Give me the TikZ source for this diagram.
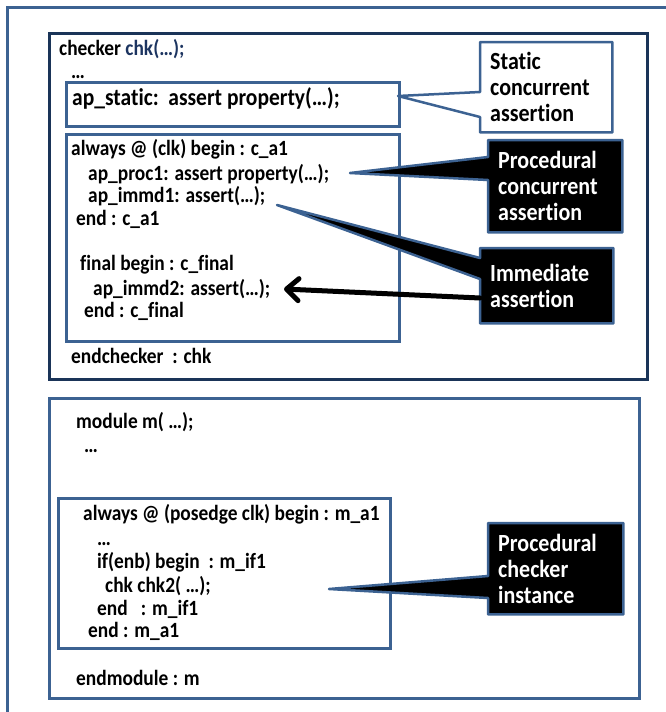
\documentclass[tikz,border=0pt]{standalone}
\usepackage{fontspec}
\setmainfont{Carlito}[Ligatures=NoCommon]
\usetikzlibrary{arrows.meta}

\definecolor{frameblue}{RGB}{60,98,146}
\definecolor{navyframe}{RGB}{26,52,88}
\definecolor{chkblue}{RGB}{28,52,96}

\pgfdeclarelayer{frames}
\pgfdeclarelayer{callouts}
\pgfsetlayers{frames,callouts,main}

% slightly tall lettering
\newcommand\tallbox[1]{\scalebox{1}[1.12]{#1}}

\tikzset{
  code/.style={anchor=base west, inner sep=0pt, font=\bfseries\fontsize{19.4}{20}\selectfont},
  bigcode/.style={code, font=\bfseries\fontsize{21.5}{22}\selectfont},
  codebox/.style={draw=frameblue, line width=2.5pt, anchor=north west, inner sep=0pt},
  calltext/.style={anchor=north west, inner xsep=10pt, inner ysep=0pt, align=left,
    font=\bfseries\fontsize{22}{26}\selectfont},
  darkcallout/.style={fill=black, draw=frameblue, line width=2.5pt, line join=round},
  lightcallout/.style={fill=white, draw=frameblue, line width=2.5pt, line join=round},
}

\begin{document}
\begin{tikzpicture}[x=1pt, y=-1pt]
\useasboundingbox (0,0) rectangle (665,712);

% frames
\begin{pgfonlayer}{frames}
  \draw[frameblue, line width=3pt] (7,730) -- (7,7) -- (680,7);
  \node[codebox, draw=navyframe, line width=3pt, minimum width=598pt, minimum height=346pt] (chkbox) at (48,32) {};
  \node[codebox, minimum width=333pt, minimum height=44pt] (stbox) at (65,81) {};
  \node[codebox, minimum width=333pt, minimum height=207pt] (alwbox) at (65,133) {};
  \node[codebox, minimum width=590pt, minimum height=300pt] (modbox) at (48,397) {};
  \node[codebox, minimum width=332pt, minimum height=150pt] (malwbox) at (57,497) {};
\end{pgfonlayer}

% checker code
\node[code] (l1) at (59,55) {\tallbox{checker \textcolor{chkblue}{chk(…);}}};
\node[code] (l2) at (71,78) {\tallbox{…}};
\node[bigcode] (l3) at (72,105) {\tallbox{ap\_static:\ \ assert property(…);}};
\node[code] (l4) at (71,155) {\tallbox{always @ (clk) begin : c\_a1}};
\node[code] (l5) at (88,180) {\tallbox{ap\_proc1: assert property(…);}};
\node[code] (l6) at (88,202) {\tallbox{ap\_immd1: assert(…);}};
\node[code] (l7) at (76,225) {\tallbox{end : c\_a1}};
\node[code] (l8) at (80,270) {\tallbox{final begin : c\_final}};
\node[code] (l9) at (93,295) {\tallbox{ap\_immd2: assert(…);}};
\node[code] (l10) at (84,317) {\tallbox{end : c\_final}};
\node[code] (l11) at (71,363) {\tallbox{endchecker\ \ : chk}};

% module code
\node[code] (m1) at (76,428) {\tallbox{module m( …);}};
\node[code] (m2) at (84,452) {\tallbox{…}};
\node[code] (m3) at (83,520) {\tallbox{always @ (posedge clk) begin : m\_a1}};
\node[code] (m4) at (97,545) {\tallbox{…}};
\node[code] (m5) at (97,568) {\tallbox{if(enb) begin\ \ : m\_if1}};
\node[code] (m6) at (105,592) {\tallbox{chk chk2( …);}};
\node[code] (m7) at (97,615) {\tallbox{end\ \ \ : m\_if1}};
\node[code] (m8) at (88,637) {\tallbox{end : m\_a1}};
\node[code] (m9) at (76,685) {\tallbox{endmodule : m}};

% callout texts
\node[calltext, text width=112pt, minimum height=90pt] (stc) at (480,42)
  {\tallbox{Static}\\\tallbox{concurrent}\\\tallbox{assertion}};
\node[calltext, text width=114pt, minimum height=92pt, text=white] (prc) at (488,140)
  {\tallbox{Procedural}\\\tallbox{concurrent}\\\tallbox{assertion}};
\node[calltext, text width=113pt, minimum height=75pt, text=white] (imc) at (480,248)
  {\tallbox{Immediate}\\\tallbox{assertion}};
\node[calltext, text width=115pt, minimum height=91pt, text=white] (chc) at (488,523)
  {\tallbox{Procedural}\\\tallbox{checker}\\\tallbox{instance}};

% pointer tips
\coordinate (sttip) at (398,96);
\coordinate (prtip) at (350,173);
\coordinate (imtip) at (277,205);
\coordinate (chtip) at (329,589);
\coordinate (arrtip) at (284,289);

% callout outlines with their pointers
\begin{pgfonlayer}{callouts}
  \filldraw[lightcallout] (stc.north west) -- (stc.north east) -- (stc.south east) -- (stc.south west)
    -- (stc.west |- 0,117) -- (sttip) -- (stc.west |- 0,92) -- cycle;
  \filldraw[darkcallout] (prc.north west) -- (prc.north east) -- (prc.south east) -- (prc.south west)
    -- (prc.west |- 0,180) -- (prtip) -- (prc.west |- 0,157) -- cycle;
  \filldraw[darkcallout] (imc.north west) -- (imc.north east) -- (imc.south east) -- (imc.south west)
    -- (imc.west |- 0,279) -- (imtip) -- (imc.west |- 0,258) -- cycle;
  \filldraw[darkcallout] (chc.north west) -- (chc.north east) -- (chc.south east) -- (chc.south west)
    -- (chc.west |- 0,598) -- (chtip) -- (chc.west |- 0,576) -- cycle;
\end{pgfonlayer}

% arrow from the immediate-assertion callout
\draw[line width=5pt, line cap=round,
  -{Straight Barb[length=12pt, width=22pt, round]}]
  (imc.west |- 0,298) -- (arrtip);
\end{tikzpicture}
\end{document}
